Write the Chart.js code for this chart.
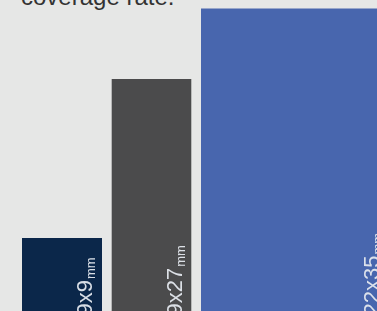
<!DOCTYPE html>
<html>
<head>
<meta charset="utf-8">
<script src="https://cdn.jsdelivr.net/npm/chart.js@4/dist/chart.umd.min.js"></script>
<style>
  html, body { margin: 0; padding: 0; width: 377px; height: 311px; overflow: hidden; background: #e6e7e6; }
  #wrap { position: relative; width: 377px; height: 311px; }
  #title { position: absolute; left: 21px; top: -17px; font-family: "Liberation Sans", Arial, sans-serif; font-size: 24px; color: #333333; white-space: nowrap; line-height: 28px; }
  canvas { position: absolute; left: 0; top: 0; }
</style>
</head>
<body>
<div id="wrap">
  <div id="title">coverage rate.</div>
  <canvas id="c" width="377" height="311"></canvas>
</div>
<script>
// Data (mm): label dimensions
const labels = ["9x9", "9x27", "22x35"];
const widthsMm = [9, 9, 22];
const heightsMm = [9, 27, 35];
const unit = "mm";

// Styles
const colors = ["#0b274a", "#4b4b4c", "#4866ae"];
const gapMm = 1.05;
const labelInsetPx = [10, 10, 18];

// Build rectangle outlines from the data
let cursor = 0;
const starts = widthsMm.map(w => { const s = cursor; cursor += w + gapMm; return s; });
const datasets = labels.map((lab, i) => ({
  label: lab,
  data: [
    { x: starts[i], y: 0 },
    { x: starts[i], y: heightsMm[i] },
    { x: starts[i] + widthsMm[i], y: heightsMm[i] },
    { x: starts[i] + widthsMm[i], y: 0 }
  ],
  backgroundColor: colors[i],
  borderColor: colors[i],
  borderWidth: 0,
  pointRadius: 0,
  tension: 0,
  fill: 'origin'
}));

const barLabels = {
  id: 'barLabels',
  afterDatasetsDraw(chart) {
    const ctx = chart.ctx;
    const xs = chart.scales.x, ys = chart.scales.y;
    ctx.save();
    ctx.fillStyle = 'rgba(228,232,238,0.95)';
    labels.forEach((lab, i) => {
      const bx = xs.getPixelForValue(starts[i] + widthsMm[i]) - labelInsetPx[i];
      const by = ys.getPixelForValue(0) - 2;
      ctx.save();
      ctx.translate(bx, by);
      ctx.rotate(-Math.PI / 2);
      ctx.textBaseline = 'alphabetic';
      ctx.textAlign = 'left';
      ctx.font = '22px "Liberation Sans", Arial, sans-serif';
      ctx.fillText(lab, 0, 0);
      const w = ctx.measureText(lab).width;
      ctx.font = '13px "Liberation Sans", Arial, sans-serif';
      ctx.fillText(unit, w + 1, 3);
      ctx.restore();
    });
    ctx.restore();
  }
};

new Chart(document.getElementById('c'), {
  type: 'line',
  data: { datasets },
  options: {
    responsive: false,
    animation: false,
    layout: { padding: 0 },
    plugins: { legend: { display: false }, tooltip: { enabled: false }, title: { display: false } },
    scales: {
      x: { type: 'linear', display: false, min: -22 / 8.9, max: (377 - 22) / 8.9 },
      y: { type: 'linear', display: false, min: (317.5 - 311) / 8.83, max: 317.5 / 8.83 }
    }
  },
  plugins: [barLabels]
});
</script>
</body>
</html>
